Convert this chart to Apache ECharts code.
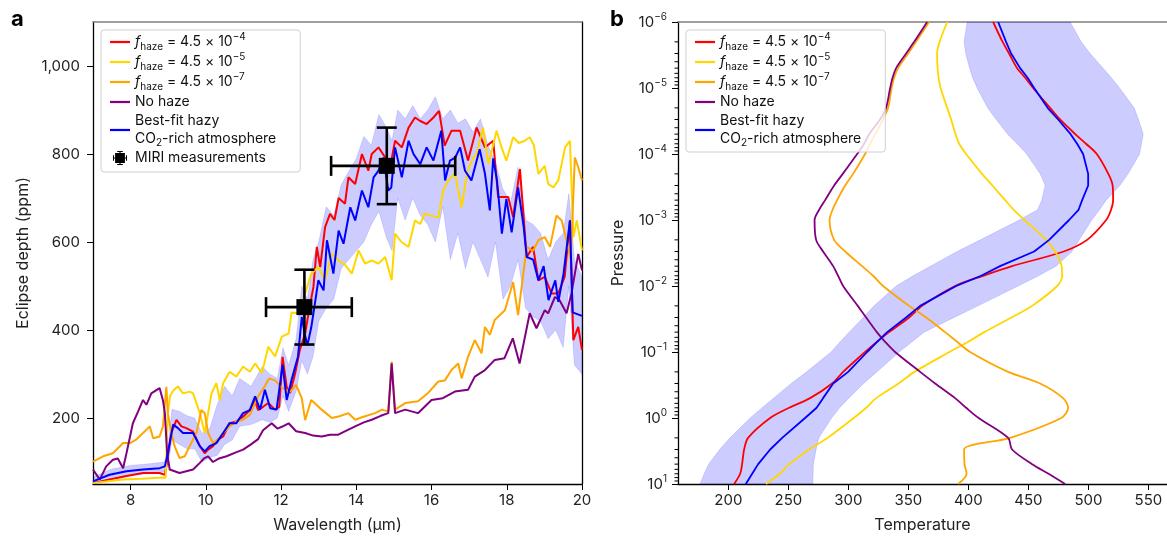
<!DOCTYPE html>
<html><head><meta charset="utf-8">
<script src="https://cdn.jsdelivr.net/npm/echarts@6/dist/echarts.min.js"></script>
<style>html,body{margin:0;padding:0;background:#fff}#chart{width:1167px;height:538px}</style>
</head><body><div id="chart"></div>
<script>
// ---------- Panel a: eclipse depth spectra (wavelength um, ppm) ----------
const xTickValues = [8, 10, 12, 14, 16, 18, 20];
const yTickValues = [200, 400, 600, 800, 1000];

const redSpectrum = [[7.0,52],[7.44,60],[7.89,68],[8.33,75],[8.77,75],[8.91,71],[8.95,90],[9.08,166],[9.22,196],[9.35,181],[9.48,177],[9.66,169],[9.84,136],[9.97,120],[10.06,128],[10.19,136],[10.32,151],[10.46,158],[10.63,188],[10.81,192],[10.99,203],[11.17,218],[11.3,241],[11.39,218],[11.53,226],[11.66,234],[11.84,219],[11.95,225],[12.04,339],[12.15,270],[12.24,257],[12.37,300],[12.5,355],[12.64,392],[12.73,438],[12.86,498],[12.95,589],[13.04,543],[13.17,634],[13.3,664],[13.42,650],[13.53,700],[13.7,687],[13.79,747],[13.97,732],[14.15,800],[14.32,762],[14.41,800],[14.59,815],[14.77,792],[14.9,770],[15.03,830],[15.21,815],[15.39,860],[15.56,883],[15.7,875],[15.87,868],[16.05,883],[16.2,898],[16.35,819],[16.53,853],[16.76,853],[16.97,785],[17.2,860],[17.42,815],[17.64,830],[17.77,702],[18.04,702],[18.17,656],[18.35,766],[18.53,566],[18.7,589],[18.84,513],[19.01,521],[19.19,483],[19.37,483],[19.54,521],[19.68,649],[19.77,377],[19.9,407],[20.0,355]];

const yellowSpectrum = [[7.0,52],[7.4,56],[7.8,60],[8.3,62],[8.87,65],[8.93,64],[8.99,211],[9.05,250],[9.13,262],[9.26,272],[9.39,256],[9.57,260],[9.66,256],[9.84,211],[9.97,166],[10.06,211],[10.15,256],[10.28,279],[10.37,241],[10.46,279],[10.63,305],[10.81,294],[10.99,317],[11.17,305],[11.31,324],[11.49,302],[11.66,362],[11.84,340],[12.02,385],[12.2,392],[12.28,440],[12.46,438],[12.64,483],[12.8,528],[12.99,543],[13.17,513],[13.35,573],[13.53,558],[13.7,548],[13.88,528],[14.06,581],[14.23,551],[14.41,558],[14.59,551],[14.77,566],[14.94,513],[15.03,619],[15.2,600],[15.39,589],[15.56,649],[15.7,641],[15.82,664],[16.0,660],[16.18,656],[16.31,717],[16.44,740],[16.62,755],[16.8,679],[16.95,760],[17.11,792],[17.2,800],[17.37,860],[17.51,777],[17.73,853],[17.86,815],[17.99,785],[18.17,838],[18.32,825],[18.48,830],[18.61,838],[18.72,820],[18.84,755],[19.01,773],[19.1,732],[19.24,724],[19.37,740],[19.55,815],[19.68,830],[19.77,611],[19.86,649],[20.0,581]];

const orangeSpectrum = [[7.0,101],[7.27,113],[7.53,120],[7.8,143],[7.98,143],[8.15,151],[8.33,166],[8.51,181],[8.6,154],[8.77,158],[8.86,181],[8.95,271],[8.99,211],[9.08,166],[9.17,136],[9.3,109],[9.44,113],[9.57,136],[9.75,166],[9.88,218],[9.97,211],[10.06,166],[10.19,143],[10.32,151],[10.46,166],[10.63,181],[10.81,192],[10.99,196],[11.17,207],[11.39,249],[11.55,270],[11.68,290],[11.85,285],[12.0,270],[12.24,260],[12.4,275],[12.55,245],[12.64,195],[12.8,241],[13.08,219],[13.35,200],[13.55,204],[13.79,211],[13.97,196],[14.23,204],[14.5,211],[14.68,219],[14.85,215],[14.94,328],[15.03,219],[15.3,234],[15.64,238],[15.91,257],[16.18,283],[16.35,285],[16.53,309],[16.71,324],[16.8,290],[16.97,339],[17.15,377],[17.33,347],[17.42,407],[17.55,389],[17.68,423],[17.95,445],[18.17,509],[18.3,434],[18.53,589],[18.7,580],[18.84,604],[19.01,611],[19.15,589],[19.32,660],[19.46,649],[19.59,604],[19.7,560],[19.81,792],[19.9,770],[20.0,740]];

const noHazeSpectrum = [[7.0,83],[7.18,60],[7.35,90],[7.53,105],[7.66,108],[7.8,86],[7.89,120],[8.06,188],[8.2,215],[8.33,241],[8.42,230],[8.55,256],[8.77,268],[8.86,240],[8.91,211],[8.97,120],[9.04,83],[9.3,75],[9.66,83],[9.84,98],[9.95,108],[10.06,113],[10.19,100],[10.35,108],[10.55,113],[10.8,122],[10.99,128],[11.2,140],[11.39,152],[11.52,172],[11.75,188],[11.9,176],[12.02,180],[12.2,188],[12.4,170],[12.64,166],[12.85,160],[13.08,158],[13.3,162],[13.52,162],[13.75,172],[13.97,181],[14.2,190],[14.41,196],[14.65,205],[14.85,211],[14.94,324],[15.03,211],[15.3,219],[15.64,211],[16.0,241],[16.3,245],[16.62,260],[16.97,264],[17.15,294],[17.42,309],[17.68,332],[17.94,336],[18.16,381],[18.34,324],[18.61,438],[18.79,404],[19.01,445],[19.1,438],[19.28,475],[19.4,468],[19.59,438],[19.72,483],[19.9,573],[20.0,536]];

const bestFitSpectrum = [[7.0,56],[7.44,71],[7.89,79],[8.33,83],[8.77,86],[8.91,90],[8.99,120],[9.13,185],[9.26,177],[9.39,166],[9.66,166],[9.84,136],[9.97,124],[10.1,136],[10.28,143],[10.46,166],[10.63,188],[10.81,188],[10.99,211],[11.17,218],[11.31,249],[11.44,219],[11.57,264],[11.71,222],[11.88,219],[12.04,321],[12.15,241],[12.28,287],[12.45,340],[12.55,430],[12.62,395],[12.7,365],[12.8,405],[12.86,438],[12.99,513],[13.13,490],[13.22,604],[13.39,528],[13.53,626],[13.66,596],[13.84,679],[13.97,649],[14.15,717],[14.32,679],[14.46,747],[14.59,762],[14.72,792],[14.85,717],[14.93,724],[15.03,815],[15.21,747],[15.39,830],[15.52,800],[15.7,777],[15.87,815],[16.05,785],[16.26,853],[16.36,740],[16.49,785],[16.63,792],[16.76,815],[16.89,762],[17.06,740],[17.28,811],[17.42,755],[17.55,672],[17.64,790],[17.74,740],[17.87,619],[17.99,698],[18.13,622],[18.3,724],[18.45,634],[18.53,566],[18.7,560],[18.84,513],[18.98,545],[19.11,468],[19.29,513],[19.37,464],[19.51,528],[19.68,649],[19.75,440],[20.0,432]];

const bandWave = [7.0,7.5,8.0,8.5,8.9,9.0,9.1,9.3,9.5,9.7,9.9,10.1,10.3,10.5,10.7,10.9,11.2,11.5,11.7,11.9,12.05,12.2,12.4,12.55,12.7,12.85,13.0,13.2,13.4,13.6,13.8,14.0,14.2,14.4,14.6,14.8,14.95,15.1,15.3,15.5,15.7,15.9,16.1,16.3,16.5,16.7,16.9,17.1,17.3,17.5,17.7,17.9,18.1,18.3,18.5,18.7,18.9,19.1,19.3,19.5,19.65,19.8,20.0];
const bandLow = [48,62,70,74,78,95,150,140,130,130,100,110,115,140,150,181,185,196,190,200,250,215,260,330,300,340,420,450,470,540,560,580,600,640,670,610,580,700,650,700,660,640,600,680,560,620,540,600,560,520,600,470,500,560,450,430,420,380,400,360,500,320,300];
const bandHigh = [66,84,92,96,100,140,220,215,205,200,165,175,230,272,250,290,272,317,300,290,360,320,380,500,470,560,600,680,660,730,760,790,840,820,890,860,830,900,880,910,880,900,930,880,900,870,880,850,880,820,780,720,690,770,650,640,620,560,600,620,710,560,520];

const miriWave = [12.62, 14.81];
const miriDepth = [452, 773];
const miriWaveLow = [11.6, 13.33];
const miriWaveHigh = [13.88, 16.63];
const miriDepthLow = [367, 686];
const miriDepthHigh = [537, 860];

// ---------- Panel b: temperature-pressure profiles ----------
const tempTickValues = [200, 250, 300, 350, 400, 450, 500, 550];
const pressureLevels = [1e-6,2e-6,3e-6,5e-6,7e-6,1e-5,2e-5,3e-5,5e-5,7e-5,1e-4,2e-4,3e-4,5e-4,7e-4,1e-3,2e-3,3e-3,5e-3,7e-3,1e-2,2e-2,3e-2,5e-2,7e-2,0.1,0.2,0.3,0.5,0.7,1,2,3,5,7,10];
const tempRed = [420.6,428.5,433.9,440.6,447.3,453.9,468.1,476.4,489,498,507,516.6,520.2,520.6,518.9,514.8,498.9,479.4,436.4,412.3,388.9,361.4,350.6,333.9,323.9,313.9,295.6,286.4,268.1,250.6,234.8,216.4,213.1,211.4,209.8,204.8];
const tempYellow = [382.3,376,373.9,374.3,375.2,376.8,382.3,385.6,389.3,392.3,398.1,411.4,420,430.6,437.7,446.8,464.8,472.3,477.7,478.1,473.9,453.1,435.9,413.3,399.9,384.2,355.1,341.8,323.1,314.8,304.5,282.6,267.3,250.8,242.8,231.4];
const tempOrange = [367.2,356.4,349.8,341.4,338.1,336,333.1,328.9,322.3,318.1,313.9,303.9,297.3,290.6,286.8,284.3,288.1,297.3,311.4,320.6,328.9,350.6,364.8,380.6,390.6,401.4,433.1,459.8,478.9,483.1,477.3,434.8,396.4,396.8,398.5,391.4];
const tempNoHaze = [365.6,354.8,348.1,339.8,336.8,334.8,331.4,326.4,317.3,313.1,307.3,295.3,288.1,280.6,275.6,271.8,273.1,278.9,287.3,291.4,295.6,307.8,314.8,323.7,330.6,338.9,359.8,372.3,388.9,398.1,408.5,433.1,436.4,453.1,466.8,480.6];
const tempBestFit = [424.8,431.4,435.6,443.1,449.3,454.8,466,474.8,485.2,490.6,495.6,499.8,499.8,494.8,491.8,483.9,467.3,454.8,426.4,410.6,389.8,359.8,348.1,332.3,323.9,315.6,299.8,287.3,278.9,273.5,263.9,244.8,234.8,224.8,219.8,214.5];
const tempBandLow = [398.9,396.4,397.7,401,403.5,407.3,416,423.1,432.7,440.6,448.5,459.8,463.9,461.1,457.6,442.4,410,390.5,368.3,353.9,339.8,321.4,312.3,300.6,293.1,285.6,265.1,252.3,237.6,228.1,218.1,201.4,192.7,183.5,179.8,176.4];
const tempBandHigh = [484.8,494,501.4,512.3,519.2,526,538.1,541.8,545.7,544.2,542.7,533.1,526.2,514.8,509.3,502.8,492.4,486.3,473.1,458.5,441.4,408.1,388.1,363.1,353.1,342.3,323.9,312.7,300.3,292.7,286,275.4,273.1,270.8,270.6,270.3];
const minorTickMultipliers = [2,3,4,5,6,7,8,9];
const minorTickDecades = [1e-6,1e-5,1e-4,1e-3,1e-2,1e-1,1];

// ---------- chart ----------
const FONT = 'Inter, "Noto Sans", sans-serif';
const COLORS = {f4:'#ff0000', f5:'#ffd700', f7:'#ffa500', nohaze:'#800080', best:'#0000ff'};
const chart = echarts.init(document.getElementById('chart'), null, {renderer:'canvas'});

const legendText = {
  f4: '{i|f}{sub|haze} = 4.5 × 10{sup|−4}',
  f5: '{i|f}{sub|haze} = 4.5 × 10{sup|−5}',
  f7: '{i|f}{sub|haze} = 4.5 × 10{sup|−7}',
  nohaze: 'No haze',
  best: 'Best-fit hazy\nCO{sub|2}-rich atmosphere',
  miri: 'MIRI measurements'
};
const richStyles = {
  i: {fontStyle:'italic', fontSize:14, fontFamily:FONT, color:'#111', lineHeight:20},
  sub: {fontSize:10, fontFamily:FONT, color:'#111', lineHeight:9, verticalAlign:'bottom'},
  sup: {fontSize:10, fontFamily:FONT, color:'#111', lineHeight:9, verticalAlign:'top'}
};
const miriIcon = 'path://M3,3H17V17H3Z M9.2,0H10.8V20H9.2Z M0,9.2H20V10.8H0Z M6,0H14V1.4H6Z M6,18.6H14V20H6Z M0,6H1.4V14H0Z M18.6,6H20V14H18.6Z';
const lineIcon = 'path://M0,0H18V2H0Z';

function legendCfg(left, names) {
  return {
    left: left, top: 30, orient: 'vertical', align: 'left',
    itemWidth: 20, itemHeight: 14, itemGap: 0, selectedMode: false, symbolKeepAspect: true,
    padding: [2, 24, 4, 9],
    backgroundColor: 'rgba(255,255,255,0.8)', borderColor: '#d0d0d0', borderWidth: 1, borderRadius: 3,
    textStyle: {fontFamily: FONT, fontSize: 14, color: '#111', lineHeight: 20, rich: richStyles},
    formatter: n => legendText[n],
    data: names.map(n => {
      if (n === 'miri') return {name: n, icon: miriIcon, itemStyle: {color: '#000'}};
      const item = {name: n, icon: lineIcon, itemStyle: {color: COLORS[n], borderWidth: 0}};
      if (n === 'best') item.textStyle = {lineHeight: 18};
      return item;
    })
  };
}

function lineSeries(name, data, idx, smooth, width, z) {
  return {
    type: 'line', name: name, data: data, xAxisIndex: idx, yAxisIndex: idx,
    symbol: 'none', smooth: smooth, clip: true, z: z,
    lineStyle: {color: COLORS[name], width: width}, itemStyle: {color: COLORS[name]},
    emphasis: {disabled: true}
  };
}

const bandFill = 'rgba(0,0,255,0.2)';
const bandStroke = 'rgba(0,0,255,0.12)';

const leftBandSeries = {
  type: 'custom', name: 'bandA', xAxisIndex: 0, yAxisIndex: 0, z: 1, clip: true,
  data: bandWave.map((w, i) => [w, bandLow[i], bandHigh[i]]),
  encode: {x: 0, y: [1, 2]},
  renderItem: function (params, api) {
    if (params.dataIndex !== 0) return null;
    const pts = [];
    for (let i = 0; i < bandWave.length; i++) pts.push(api.coord([bandWave[i], bandLow[i]]));
    for (let i = bandWave.length - 1; i >= 0; i--) pts.push(api.coord([bandWave[i], bandHigh[i]]));
    return {type: 'polygon', shape: {points: pts}, style: {fill: bandFill, stroke: bandStroke, lineWidth: 1}};
  }
};

const rightBandSeries = {
  type: 'custom', name: 'bandB', xAxisIndex: 1, yAxisIndex: 1, z: 1, clip: true,
  data: pressureLevels.map((p, i) => [tempBandLow[i], p, tempBandHigh[i]]),
  encode: {x: [0, 2], y: 1},
  renderItem: function (params, api) {
    if (params.dataIndex !== 0) return null;
    const pts = [];
    for (let i = 0; i < pressureLevels.length; i++) pts.push(api.coord([tempBandLow[i], pressureLevels[i]]));
    for (let i = pressureLevels.length - 1; i >= 0; i--) pts.push(api.coord([tempBandHigh[i], pressureLevels[i]]));
    return {type: 'polygon', shape: {points: pts}, style: {fill: bandFill, stroke: bandStroke, lineWidth: 1}};
  }
};

const miriSeries = {
  type: 'custom', name: 'miri', xAxisIndex: 0, yAxisIndex: 0, z: 10,
  itemStyle: {color: '#000'},
  data: miriWave.map((w, i) => [w, miriDepth[i], miriWaveLow[i], miriWaveHigh[i], miriDepthLow[i], miriDepthHigh[i]]),
  encode: {x: [0, 2, 3], y: [1, 4, 5]},
  renderItem: function (params, api) {
    const c = api.coord([api.value(0), api.value(1)]);
    const l = api.coord([api.value(2), api.value(1)]);
    const r = api.coord([api.value(3), api.value(1)]);
    const b = api.coord([api.value(0), api.value(4)]);
    const t = api.coord([api.value(0), api.value(5)]);
    const cap = 10, s = 8;
    const st = {stroke: '#000', lineWidth: 2.6};
    return {type: 'group', children: [
      {type: 'line', shape: {x1: l[0], y1: c[1], x2: r[0], y2: c[1]}, style: st},
      {type: 'line', shape: {x1: c[0], y1: t[1], x2: c[0], y2: b[1]}, style: st},
      {type: 'line', shape: {x1: l[0], y1: c[1] - cap, x2: l[0], y2: c[1] + cap}, style: st},
      {type: 'line', shape: {x1: r[0], y1: c[1] - cap, x2: r[0], y2: c[1] + cap}, style: st},
      {type: 'line', shape: {x1: c[0] - cap, y1: t[1], x2: c[0] + cap, y2: t[1]}, style: st},
      {type: 'line', shape: {x1: c[0] - cap, y1: b[1], x2: c[0] + cap, y2: b[1]}, style: st},
      {type: 'rect', shape: {x: c[0] - s, y: c[1] - s, width: 2 * s, height: 2 * s}, style: {fill: '#000'}}
    ]};
  }
};

const minorTickData = [];
minorTickDecades.forEach(d => minorTickMultipliers.forEach(m => minorTickData.push([158, m * d])));
const minorTickSeries = {
  type: 'custom', name: 'minorTicks', xAxisIndex: 1, yAxisIndex: 1, z: 20, silent: true,
  data: minorTickData,
  renderItem: function (params, api) {
    const p = api.coord([api.value(0), api.value(1)]);
    return {type: 'line', shape: {x1: p[0] - 3.5, y1: p[1], x2: p[0], y2: p[1]}, style: {stroke: '#000', lineWidth: 1}};
  }
};

const axisLabelStyle = {fontFamily: FONT, fontSize: 15, color: '#222'};
const axisNameStyle = {fontFamily: FONT, fontSize: 16, color: '#222'};
const blackLine = {show: true, onZero: false, lineStyle: {color: '#000', width: 1.3}};
const grayLine = {show: true, onZero: false, lineStyle: {color: '#808080', width: 1.5}};
const noDecor = {axisTick: {show: false}, axisLabel: {show: false}, splitLine: {show: false}};

const option = {
  animation: false,
  backgroundColor: '#fff',
  grid: [
    {left: 93, top: 22, width: 489, height: 462},
    {left: 678, top: 22, width: 489, height: 462}
  ],
  xAxis: [
    {type: 'value', gridIndex: 0, min: 7, max: 20, axisLine: blackLine, splitLine: {show: false},
     axisTick: {length: 6, lineStyle: {color: '#000'}, customValues: xTickValues},
     axisLabel: Object.assign({margin: 9, customValues: xTickValues}, axisLabelStyle),
     name: 'Wavelength (μm)', nameLocation: 'middle', nameGap: 33, nameTextStyle: axisNameStyle},
    {type: 'value', gridIndex: 1, min: 158, max: 565.5, axisLine: blackLine, splitLine: {show: false},
     axisTick: {length: 6, lineStyle: {color: '#000'}, customValues: tempTickValues},
     axisLabel: Object.assign({margin: 9, customValues: tempTickValues}, axisLabelStyle),
     name: 'Temperature', nameLocation: 'middle', nameGap: 33, nameTextStyle: axisNameStyle},
    Object.assign({type: 'value', gridIndex: 0, position: 'top', min: 7, max: 20, axisLine: grayLine}, noDecor),
    Object.assign({type: 'value', gridIndex: 1, position: 'top', min: 158, max: 565.5, axisLine: grayLine}, noDecor)
  ],
  yAxis: [
    {type: 'value', gridIndex: 0, min: 50, max: 1100, axisLine: blackLine, splitLine: {show: false},
     axisTick: {length: 6, lineStyle: {color: '#000'}, customValues: yTickValues},
     axisLabel: Object.assign({margin: 13, customValues: yTickValues,
       formatter: v => Number(v).toLocaleString('en-US')}, axisLabelStyle),
     name: 'Eclipse depth (ppm)', nameLocation: 'middle', nameGap: 62, nameTextStyle: axisNameStyle},
    {type: 'log', logBase: 10, gridIndex: 1, min: 1e-6, max: 10, interval: 1, inverse: true,
     axisLine: blackLine, splitLine: {show: false}, minorTick: {show: false},
     axisTick: {length: 6, lineStyle: {color: '#000'}},
     axisLabel: Object.assign({margin: 11,
       formatter: v => '10{sup|' + String(Math.round(Math.log10(v))).replace('-', '−') + '}',
       rich: {sup: {fontFamily: FONT, fontSize: 10, color: '#222', lineHeight: 9, verticalAlign: 'top'}},
       lineHeight: 20}, axisLabelStyle),
     name: 'Pressure', nameLocation: 'middle', nameGap: 52, nameTextStyle: axisNameStyle},
    Object.assign({type: 'value', gridIndex: 0, position: 'right', min: 0, max: 1, axisLine: blackLine}, noDecor)
  ],
  legend: [
    legendCfg(101, ['f4', 'f5', 'f7', 'nohaze', 'best', 'miri']),
    legendCfg(686, ['f4', 'f5', 'f7', 'nohaze', 'best'])
  ],
  graphic: [
    {type: 'text', left: 11, top: 8, style: {text: 'a', font: 'bold 22px ' + FONT, fill: '#000'}},
    {type: 'text', left: 610, top: 8, style: {text: 'b', font: 'bold 22px ' + FONT, fill: '#000'}}
  ],
  series: [
    leftBandSeries,
    lineSeries('f4', redSpectrum, 0, false, 2, 3),
    lineSeries('f5', yellowSpectrum, 0, false, 2, 3),
    lineSeries('f7', orangeSpectrum, 0, false, 2, 3),
    lineSeries('nohaze', noHazeSpectrum, 0, false, 2, 3),
    lineSeries('best', bestFitSpectrum, 0, false, 2, 4),
    miriSeries,
    rightBandSeries,
    lineSeries('f4', pressureLevels.map((p, i) => [tempRed[i], p]), 1, 0.3, 1.8, 3),
    lineSeries('f5', pressureLevels.map((p, i) => [tempYellow[i], p]), 1, 0.3, 1.8, 3),
    lineSeries('f7', pressureLevels.map((p, i) => [tempOrange[i], p]), 1, 0.3, 1.8, 3),
    lineSeries('nohaze', pressureLevels.map((p, i) => [tempNoHaze[i], p]), 1, 0.3, 1.8, 3),
    lineSeries('best', pressureLevels.map((p, i) => [tempBestFit[i], p]), 1, false, 1.8, 4),
    minorTickSeries
  ]
};
chart.setOption(option);
</script></body></html>
